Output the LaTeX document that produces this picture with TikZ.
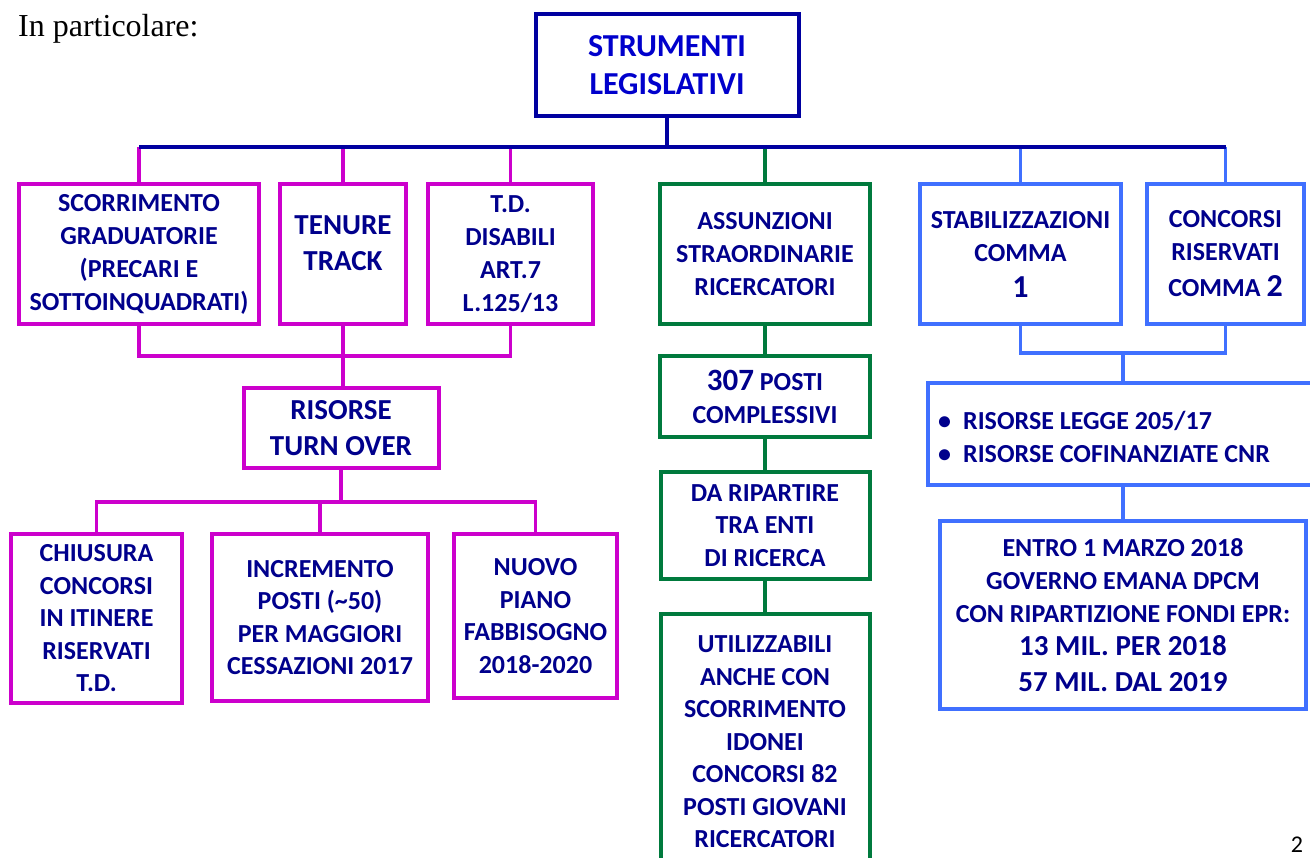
\documentclass[tikz,border=0pt]{standalone}
\usepackage{fontspec}
\setmainfont{Liberation Serif}
\newfontfamily\carl{Carlito}
\definecolor{navyB}{RGB}{0,0,160}
\definecolor{txtB}{RGB}{0,0,140}
\definecolor{topT}{RGB}{0,0,204}
\definecolor{magC}{RGB}{204,0,204}
\definecolor{grnC}{RGB}{0,122,61}
\definecolor{bluC}{RGB}{64,112,255}
\tikzset{
  box/.style={draw, line width=4pt, inner sep=0pt, align=center, text=txtB,
    font=\carl\bfseries\fontsize{26}{33}\selectfont},
  magbox/.style={box, draw=magC},
  grnbox/.style={box, draw=grnC},
  blubox/.style={box, draw=bluC},
  txt/.style={inner sep=0pt, align=center, text=txtB,
    font=\carl\bfseries\fontsize{26}{33}\selectfont},
  conn/.style={line width=3.5pt},
  magline/.style={conn, draw=magC},
  grnline/.style={conn, draw=grnC},
  bluline/.style={conn, draw=bluC},
  navline/.style={conn, draw=navyB},
}
\begin{document}
\begin{tikzpicture}[x=1pt,y=-1pt]
\useasboundingbox (0,0) rectangle (1310,858);

\node[anchor=base west, inner sep=0pt, font=\fontsize{32}{38}\selectfont] (intro) at (18,37) {In particolare:};

% top
\node[box, draw=navyB, text=topT, minimum width=263pt, minimum height=102pt,
  font=\carl\bfseries\fontsize{32}{38}\selectfont] (top) at (667,65) {STRUMENTI\\LEGISLATIVI};

% row 1
\node[magbox, minimum width=240pt, minimum height=140pt] (scor) at (139,254)
  {SCORRIMENTO\\GRADUATORIE\\(PRECARI E\\SOTTOINQUADRATI)};
\node[magbox, minimum width=126pt, minimum height=140pt] (tenure) at (343,254) {};
\node[txt, font=\carl\bfseries\fontsize{29}{36}\selectfont] (tenuretxt) at ([yshift=11pt]tenure.center) {TENURE\\TRACK};
\node[magbox, minimum width=165pt, minimum height=140pt] (td) at (510.5,254)
  {T.D.\\DISABILI\\ART.7\\L.125/13};
\node[grnbox, minimum width=210pt, minimum height=140pt] (assun) at (765,254)
  {ASSUNZIONI\\STRAORDINARIE\\RICERCATORI};
\node[blubox, minimum width=201pt, minimum height=140pt] (stab) at (1020.5,254)
  {STABILIZZAZIONI\\COMMA\\[3pt]{\fontsize{32}{36}\selectfont 1}};
\node[blubox, minimum width=157pt, minimum height=140pt] (conc) at (1225.5,254)
  {CONCORSI\\RISERVATI\\[3pt]COMMA {\fontsize{32}{36}\selectfont 2}};

% top bar
\coordinate (bar) at (0,147);
\draw[magline] (scor.north |- bar) -- (scor.north);
\draw[magline] (tenure.north |- bar) -- (tenure.north);
\draw[magline] (td.north |- bar) -- (td.north);
\draw[grnline] (assun.north |- bar) -- (assun.north);
\draw[bluline] (stab.north |- bar) -- (stab.north);
\draw[bluline] (conc.north |- bar) -- (conc.north);
\draw[navline] (top.south) -- (top.south |- bar);
\draw[navline] (scor.north |- bar) -- (conc.north |- bar);

% magenta branch
\node[magbox, minimum width=195pt, minimum height=80pt,
  font=\carl\bfseries\fontsize{29}{36}\selectfont] (rto) at (341,428) {RISORSE\\TURN OVER};
\coordinate (j1) at (0,356);
\draw[magline] (scor.south) -- (scor.south |- j1) -- (td.south |- j1) -- (td.south);
\draw[magline] (tenure.south) -- (tenure.south |- rto.north);

\node[magbox, minimum width=171pt, minimum height=169pt, font=\carl\bfseries\fontsize{26}{32.5}\selectfont] (chius) at (96.5,618.5)
  {CHIUSURA\\CONCORSI\\IN ITINERE\\RISERVATI\\T.D.};
\node[magbox, minimum width=216pt, minimum height=167pt, font=\carl\bfseries\fontsize{26}{32.5}\selectfont] (incr) at (320,617.5)
  {INCREMENTO\\POSTI (\textasciitilde50)\\PER MAGGIORI\\CESSAZIONI 2017};
\node[magbox, minimum width=163pt, minimum height=164pt, font=\carl\bfseries\fontsize{26}{32.5}\selectfont] (nuovo) at (535.5,616)
  {NUOVO\\PIANO\\FABBISOGNO\\2018-2020};
\coordinate (j2) at (0,502);
\draw[magline] (rto.south) -- (rto.south |- j2);
\draw[magline] (chius.north) -- (chius.north |- j2) -- (nuovo.north |- j2) -- (nuovo.north);
\draw[magline] (incr.north |- j2) -- (incr.north);

% green branch
\node[grnbox, minimum width=210pt, minimum height=81pt] (p307) at (765,396.5)
  {{\fontsize{31}{35}\selectfont 307} POSTI\\COMPLESSIVI};
\node[grnbox, minimum width=209pt, minimum height=107pt, font=\carl\bfseries\fontsize{26}{32.5}\selectfont] (ripart) at (765,525.5)
  {DA RIPARTIRE\\TRA ENTI\\DI RICERCA};
\node[grnbox, minimum width=209pt, minimum height=256pt, font=\carl\bfseries\fontsize{26}{32.5}\selectfont] (util) at (765,742)
  {UTILIZZABILI\\ANCHE CON\\SCORRIMENTO\\IDONEI\\CONCORSI 82\\POSTI GIOVANI\\RICERCATORI};
\draw[grnline] (assun.south) -- (p307.north);
\draw[grnline] (p307.south) -- (ripart.north);
\draw[grnline] (ripart.south) -- (util.north);

% blue branch
\node[blubox, minimum width=390pt, minimum height=102pt] (rleg) at (1123,434) {};
\node[txt, anchor=west, align=left] (rlegtxt) at (938,436.5)
  {•\hspace{12pt}RISORSE LEGGE 205/17\\•\hspace{12pt}RISORSE COFINANZIATE CNR};
\coordinate (j3) at (0,353);
\draw[bluline] (stab.south) -- (stab.south |- j3) -- (conc.south |- j3) -- (conc.south);
\draw[bluline] (rleg.north |- j3) -- (rleg.north);
\node[blubox, minimum width=366pt, minimum height=188pt] (entro) at (1123,615)
  {ENTRO 1 MARZO 2018\\GOVERNO EMANA DPCM\\CON RIPARTIZIONE FONDI EPR:\\{\fontsize{29}{33}\selectfont 13 MIL. PER 2018}\\[3pt]{\fontsize{29}{33}\selectfont 57 MIL. DAL 2019}};
\draw[bluline] (rleg.south) -- (entro.north);

\node[inner sep=0pt, font=\carl\fontsize{24}{28}\selectfont] (pg) at (1297,845) {2};
\end{tikzpicture}
\end{document}
